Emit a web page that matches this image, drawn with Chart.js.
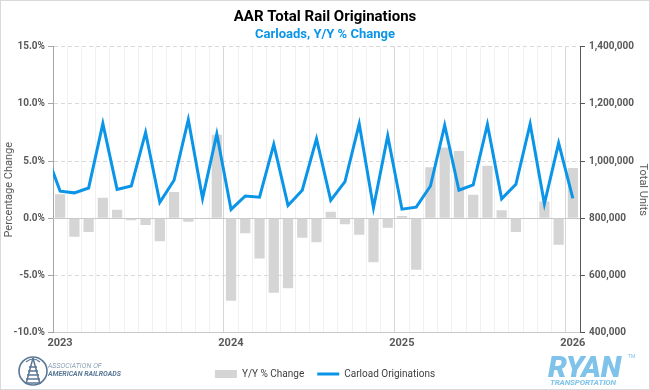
<!DOCTYPE html>
<html>
<head>
<meta charset="utf-8">
<script src="https://cdn.jsdelivr.net/npm/chart.js@4.4.1/dist/chart.umd.min.js"></script>
<style>
  html, body { margin: 0; padding: 0; background: #fff; }
  #wrap { position: relative; width: 650px; height: 390px; box-sizing: border-box; border: 1px solid #d9d9d9; overflow: hidden; font-family: Roboto, sans-serif; }
  #chart { position: absolute; left: 0; top: 0; }
  .aar { position: absolute; left: 14px; top: 352px; width: 110px; height: 36px; }
  .aar svg { position: absolute; left: 2px; top: 1px; }
  .aar .t1 { position: absolute; left: 33px; top: 9px; font: italic 300 7px Roboto, sans-serif; color: #5b7896; letter-spacing: 0.1px; white-space: nowrap; }
  .aar .t2 { position: absolute; left: 33px; top: 17px; font: italic 700 7px Roboto, sans-serif; color: #5b7896; white-space: nowrap; }
  .ryan { position: absolute; left: 545px; top: 348px; width: 90px; height: 40px; color: #7fc3ea; }
  .ryan .big { position: absolute; left: 2px; top: 0px; font: italic 900 30px Roboto, sans-serif; letter-spacing: -0.5px; }
  .ryan .small { position: absolute; left: 4px; top: 29px; font: italic 700 8px Roboto, sans-serif; letter-spacing: -0.1px; white-space: nowrap; }
  .ryan .tm { position: absolute; left: 82px; top: 4px; font: 5px Roboto, sans-serif; }
</style>
</head>
<body>
<div id="wrap">
  <canvas id="chart" width="648" height="388"></canvas>
  <div class="aar">
    <svg width="32" height="34" viewBox="0 0 32 34">
      <circle cx="16" cy="17" r="14" fill="none" stroke="#5b7896" stroke-width="1.6"/>
      <path d="M16 4 L9 30 M16 4 L23 30" stroke="#5b7896" stroke-width="1.5" fill="none"/>
      <path d="M12 13 h8 M11 17 h10 M10 21 h12 M9 25 h14 M8 29 h16" stroke="#5b7896" stroke-width="1.3"/>
      <path d="M9 8 Q16 2 23 8" stroke="#5b7896" stroke-width="1.2" fill="none"/>
    </svg>
    <div class="t1">ASSOCIATION OF</div>
    <div class="t2">AMERICAN RAILROADS</div>
  </div>
  <div class="ryan">
    <div class="big">RYAN</div>
    <div class="tm">TM</div>
    <div class="small">TRANSPORTATION</div>
  </div>
</div>
<script>
// monthly data, Dec 2022 is only there so the line enters from the left edge
const months = ['Dec 2022',
  'Jan 2023', 'Feb 2023', 'Mar 2023', 'Apr 2023', 'May 2023', 'Jun 2023', 'Jul 2023', 'Aug 2023', 'Sep 2023', 'Oct 2023', 'Nov 2023', 'Dec 2023',
  'Jan 2024', 'Feb 2024', 'Mar 2024', 'Apr 2024', 'May 2024', 'Jun 2024', 'Jul 2024', 'Aug 2024', 'Sep 2024', 'Oct 2024', 'Nov 2024', 'Dec 2024',
  'Jan 2025', 'Feb 2025', 'Mar 2025', 'Apr 2025', 'May 2025', 'Jun 2025', 'Jul 2025', 'Aug 2025', 'Sep 2025', 'Oct 2025', 'Nov 2025', 'Dec 2025',
  'Jan 2026'];

const carloads = [1030000,
  895000, 889000, 906000, 1131000, 901000, 913000, 1100000, 856000, 933000, 1145000, 870000, 1095000,
  831000, 878000, 874000, 1058000, 845000, 898000, 1078000, 863000, 928000, 1130000, 837000, 1088000,
  832000, 839000, 913000, 1125000, 898000, 917000, 1128000, 868000, 919000, 1130000, 851000, 1063000,
  870000];

const yoyChange = [null,
  2.1, -1.6, -1.2, 1.8, 0.75, -0.17, -0.58, -2.0, 2.3, -0.3, 0.05, 7.3,
  -7.2, -1.3, -3.5, -6.5, -6.1, -1.7, -2.1, 0.58, -0.52, -1.43, -3.84, -0.82,
  0.2, -4.5, 4.47, 6.19, 5.87, 2.06, 4.59, 0.7, -1.2, 0.05, 1.48, -2.3,
  4.39];

const pctTicks = [-10, -5, 0, 5, 10, 15];
const unitTicks = [400000, 600000, 800000, 1000000, 1200000, 1400000];

const tickFont = { family: 'Roboto', size: 10, weight: 'bold' };
const gray = '#595959';

const barPoints = [];
const linePoints = [];
months.forEach((m, i) => {
    linePoints.push({ x: i, y: carloads[i] });
    if (yoyChange[i] !== null) barPoints.push({ x: i, y: yoyChange[i] });
});

// solid zero line under the bars (the other grid lines are dashed)
const zeroLine = {
    id: 'zeroLine',
    beforeDatasetsDraw(chart) {
        const y = Math.round(chart.scales.y.getPixelForValue(0)) + 0.5;
        const ctx = chart.ctx;
        ctx.save();
        ctx.strokeStyle = '#c8c8c8';
        ctx.lineWidth = 1;
        ctx.setLineDash([]);
        ctx.beginPath();
        ctx.moveTo(chart.chartArea.left, y);
        ctx.lineTo(chart.chartArea.right, y);
        ctx.stroke();
        ctx.restore();
    }
};

const ctx = document.getElementById('chart').getContext('2d');
const myChart = new Chart(ctx, {
    type: 'line',
    data: {
        datasets: [{
            type: 'bar',
            label: 'Y/Y % Change',
            data: barPoints,
            yAxisID: 'y',
            backgroundColor: '#d5d5d5',
            barPercentage: 0.9,
            categoryPercentage: 0.8,
            order: 2
        },
        {
            type: 'line',
            label: 'Carload Originations',
            data: linePoints,
            yAxisID: 'y1',
            borderColor: '#0b95e8',
            backgroundColor: '#0b95e8',
            borderWidth: 3,
            pointRadius: 0,
            tension: 0,
            clip: 0,
            order: 1
        }]
    },
    plugins: [zeroLine],
    options: {
        responsive: false,
        animation: false,
        layout: { padding: { top: 0, right: 0, bottom: 0, left: 0 } },
        plugins: {
            tooltip: { enabled: false },
            title: {
                display: true,
                text: 'AAR Total Rail Originations',
                color: '#000',
                font: { family: 'Roboto', size: 15, weight: 'bold' },
                padding: { top: 7, bottom: 0 }
            },
            subtitle: {
                display: true,
                text: 'Carloads, Y/Y % Change',
                color: '#0b95e8',
                font: { family: 'Roboto', size: 13, weight: 'bold' },
                padding: { top: 1, bottom: 4 }
            },
            legend: {
                position: 'bottom',
                labels: {
                    usePointStyle: true,
                    pointStyleWidth: 22,
                    boxHeight: 8,
                    padding: 13,
                    color: '#404040',
                    font: { family: 'Roboto', size: 10 },
                    sort: (a, b) => a.datasetIndex - b.datasetIndex,
                    generateLabels: chart => {
                        const items = Chart.defaults.plugins.legend.labels.generateLabels(chart);
                        items.forEach(it => {
                            const ds = chart.data.datasets[it.datasetIndex];
                            if (ds.type === 'line') {
                                it.pointStyle = 'line';
                                it.strokeStyle = ds.borderColor;
                                it.lineWidth = 3;
                            } else {
                                it.pointStyle = 'rect';
                                it.fillStyle = ds.backgroundColor;
                                it.lineWidth = 0;
                            }
                        });
                        return items;
                    }
                }
            }
        },
        scales: {
            x: {
                type: 'linear',
                min: 0.5,
                max: months.length - 0.5,
                offset: false,
                afterBuildTicks: axis => {
                    axis.ticks = months.map((m, i) => ({ value: i + 0.5 }));
                },
                afterFit: axis => { axis.height += 2; },
                ticks: {
                    autoSkip: false,
                    maxRotation: 0,
                    minRotation: 0,
                    padding: 4,
                    labelOffset: 7,
                    color: gray,
                    font: { family: 'Roboto', size: 11, weight: 'bold' },
                    callback: value => {
                        const m = months[value + 0.5];
                        return m && m.startsWith('Jan') ? m.slice(4) : '';
                    }
                },
                grid: {
                    offset: false,
                    drawTicks: false,
                    color: c => (c.tick && (c.tick.value - 0.5) % 12 === 0) ? '#d6d6d6' : '#f0f0f0'
                },
                border: { display: true, color: '#c8c8c8', dash: [] }
            },
            y: {
                position: 'left',
                min: pctTicks[0],
                max: pctTicks[pctTicks.length - 1],
                afterBuildTicks: axis => { axis.ticks = pctTicks.map(v => ({ value: v })); },
                afterFit: axis => { axis.width = 52; },
                ticks: {
                    color: gray,
                    font: tickFont,
                    padding: 3,
                    callback: v => v.toFixed(1) + '%'
                },
                grid: {
                    color: c => c.tick && c.tick.value === 0 ? 'rgba(0,0,0,0)' : '#d9d9d9',
                    tickColor: '#a6a6a6',
                    tickLength: 5
                },
                border: { display: true, color: '#a6a6a6', dash: [4, 3] },
                title: {
                    display: true,
                    text: 'Percentage Change',
                    color: gray,
                    font: { family: 'Roboto', size: 11 },
                    padding: { top: 2, bottom: 0 }
                }
            },
            y1: {
                position: 'right',
                min: unitTicks[0],
                max: unitTicks[unitTicks.length - 1],
                afterBuildTicks: axis => { axis.ticks = unitTicks.map(v => ({ value: v })); },
                afterFit: axis => { axis.width = 69; },
                ticks: {
                    color: gray,
                    font: tickFont,
                    padding: 4,
                    callback: v => v.toLocaleString('en-US')
                },
                grid: {
                    drawOnChartArea: false,
                    tickColor: '#595959',
                    tickLength: 5
                },
                border: { display: true, color: '#595959' },
                title: {
                    display: true,
                    text: 'Total Units',
                    color: gray,
                    font: { family: 'Roboto', size: 11 },
                    padding: { top: 0, bottom: 4 }
                }
            }
        }
    }
});
</script>
</body>
</html>
